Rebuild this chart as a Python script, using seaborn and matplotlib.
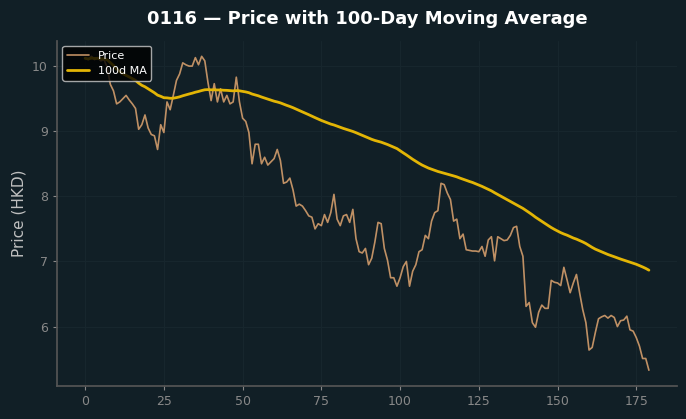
import numpy as np
import pandas as pd
import matplotlib
matplotlib.use("Agg")
import matplotlib.pyplot as plt
import seaborn as sns

# price series (day index 0..179)
price = [
    10.12, 10.10, 10.15, 10.10, 10.13, 10.08, 10.10, 9.98, 9.72, 9.62,
    9.42, 9.45, 9.50, 9.55, 9.48, 9.42, 9.35, 9.03, 9.10, 9.25,
    9.05, 8.95, 8.93, 8.72, 9.10, 8.98, 9.45, 9.33, 9.55, 9.78,
    9.88, 10.05, 10.02, 10.00, 10.00, 10.13, 10.02, 10.15, 10.08, 9.75,
    9.47, 9.73, 9.45, 9.65, 9.45, 9.55, 9.42, 9.45, 9.83, 9.45,
    9.20, 9.15, 8.98, 8.50, 8.80, 8.80, 8.50, 8.60, 8.48, 8.53,
    8.58, 8.72, 8.55, 8.20, 8.22, 8.28, 8.10, 7.85, 7.88, 7.85,
    7.78, 7.70, 7.68, 7.50, 7.58, 7.55, 7.72, 7.60, 7.75, 8.03,
    7.65, 7.55, 7.70, 7.72, 7.60, 7.80, 7.35, 7.15, 7.13, 7.20,
    6.95, 7.05, 7.30, 7.60, 7.58, 7.20, 7.02, 6.75, 6.75, 6.62,
    6.75, 6.92, 7.00, 6.62, 6.85, 6.95, 7.15, 7.18, 7.40, 7.35,
    7.62, 7.75, 7.78, 8.20, 8.18, 8.05, 7.95, 7.62, 7.65, 7.35,
    7.42, 7.18, 7.17, 7.16, 7.16, 7.15, 7.23, 7.08, 7.33, 7.38,
    7.01, 7.38, 7.35, 7.32, 7.33, 7.40, 7.52, 7.54, 7.23, 7.08,
    6.31, 6.37, 6.06, 5.99, 6.22, 6.33, 6.28, 6.28, 6.71, 6.68,
    6.67, 6.63, 6.91, 6.72, 6.52, 6.67, 6.80, 6.52, 6.26, 6.06,
    5.64, 5.68, 5.91, 6.12, 6.15, 6.17, 6.13, 6.17, 6.14, 6.00,
    6.09, 6.10, 6.16, 5.95, 5.93, 5.83, 5.70, 5.51, 5.51, 5.33,
]
day = list(range(len(price)))

df = pd.DataFrame({"day": day, "price": price})
df["ma"] = df["price"].rolling(100, min_periods=1).mean()

bg = "#111f26"
sns.set_theme(style="dark")
plt.rcParams.update({
    "figure.facecolor": bg,
    "axes.facecolor": bg,
    "axes.edgecolor": "#555555",
    "axes.grid": True,
    "grid.color": "#17262d",
    "grid.linewidth": 0.8,
    "xtick.color": "#888888",
    "ytick.color": "#888888",
    "xtick.bottom": True,
    "ytick.left": True,
    "font.family": ["DejaVu Sans"],
})

fig, ax = plt.subplots(figsize=(6.86, 4.19), dpi=100)
sns.lineplot(data=df, x="day", y="price", ax=ax, color="#d39d6c", linewidth=1.2, alpha=0.9, label="Price")
sns.lineplot(data=df, x="day", y="ma", ax=ax, color="#e3b505", linewidth=2, label="100d MA")

ax.set_title("0116 — Price with 100-Day Moving Average", color="white", fontsize=13,
             fontweight="bold", pad=12)
ax.set_xlabel("")
ax.set_ylabel("Price (HKD)", color="#c0c0c0", fontsize=11)
ax.set_xticks([0, 25, 50, 75, 100, 125, 150, 175])
ax.set_yticks([6, 7, 8, 9, 10])
ax.tick_params(axis="both", labelsize=9, length=3, width=0.8, colors="#888888")
for s in ["top", "right"]:
    ax.spines[s].set_visible(False)

leg = ax.legend(loc="upper left", fontsize=8, facecolor="black", edgecolor="#cccccc", framealpha=0.8)
for t in leg.get_texts():
    t.set_color("white")

fig.subplots_adjust(left=0.083, right=0.987, bottom=0.079, top=0.903)
plt.savefig("out.png", dpi=100, facecolor=bg)
